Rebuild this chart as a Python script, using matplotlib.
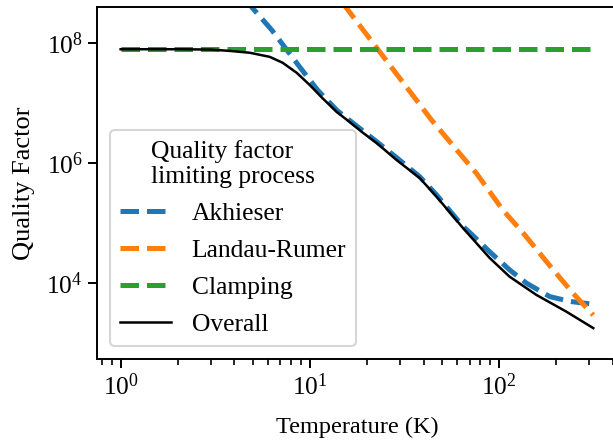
import matplotlib
matplotlib.use("Agg")
import matplotlib.pyplot as plt
from matplotlib.ticker import NullLocator

plt.rcParams['font.family'] = ['Liberation Serif', 'DejaVu Serif']
plt.rcParams['mathtext.fontset'] = 'stix'

# Akhieser
T_akh = [4.50, 4.93, 6.30, 8.85, 11.0, 13.9, 17.3, 22.1, 28.8, 38.2, 46.8, 64.7, 70.3,
         89.5, 114, 140, 186, 238, 316]
Q_akh = [5.6e8, 4.0e8, 1.65e8, 4.0e7, 1.65e7, 7.6e6, 4.4e6, 2.4e6, 1.23e6, 5.9e5, 2.95e5,
         8.7e4, 6.9e4, 3.3e4, 1.65e4, 9.9e3, 5.9e3, 4.9e3, 4.4e3]

# Landau-Rumer
T_lr = [15.0, 16.0, 44.1, 76.2, 105, 135, 194, 247, 316]
Q_lr = [4.6e8, 3.5e8, 5.2e6, 6.7e5, 1.65e5, 6.7e4, 1.65e4, 6.7e3, 2.9e3]

# Clamping
T_cl = [1, 316]
Q_cl = [7.9e7, 7.9e7]

# Overall
T_all = [1, 2.0, 3.0, 3.8, 4.82, 6.14, 7.19, 8.53, 10, 11.7, 13.9, 16.3, 19.1, 22.6,
         28.8, 38.2, 46.8, 64.7, 89.5, 114, 158, 228, 316]
Q_all = [7.9e7, 7.9e7, 7.8e7, 7.4e7, 6.9e7, 5.9e7, 4.7e7, 3.2e7, 2.0e7, 1.2e7, 7.1e6,
         4.8e6, 3.2e6, 2.15e6, 1.12e6, 5.6e5, 2.75e5, 8.2e4, 2.6e4, 1.27e4, 6.3e3,
         3.3e3, 1.76e3]

fig = plt.figure(figsize=(6.13, 4.42), dpi=100)
ax = fig.add_axes([97/613, 83/442, 521/613, 352/442])

ax.plot(T_akh, Q_akh, '--', color='C0', lw=3.6, label='Akhieser')
ax.plot(T_lr, Q_lr, '--', color='C1', lw=3.6, label='Landau-Rumer')
ax.plot(T_cl, Q_cl, '--', color='C2', lw=3.6, label='Clamping')
ax.plot(T_all, Q_all, '-', color='black', lw=1.8, label='Overall')

ax.set_xscale('log')
ax.set_yscale('log')
ax.set_xlim(0.75, 427)
ax.set_ylim(537, 4.0e8)
ax.set_yticks([1e4, 1e6, 1e8])
ax.yaxis.set_minor_locator(NullLocator())

ax.set_xlabel('Temperature (K)', fontsize=17.5, labelpad=12)
ax.set_ylabel('Quality Factor', fontsize=19, labelpad=8)
ax.tick_params(which='major', labelsize=18.4, length=6.7, width=1.4)
ax.tick_params(which='minor', length=4.3, width=1.2)
for s in ax.spines.values():
    s.set_linewidth(1.4)

leg = ax.legend(title='Quality factor\nlimiting process', loc='lower left',
                fontsize=18.4, title_fontsize=18.4, labelspacing=0.55)
leg.get_frame().set_linewidth(1.5)

fig.savefig('out.png', dpi=100)
